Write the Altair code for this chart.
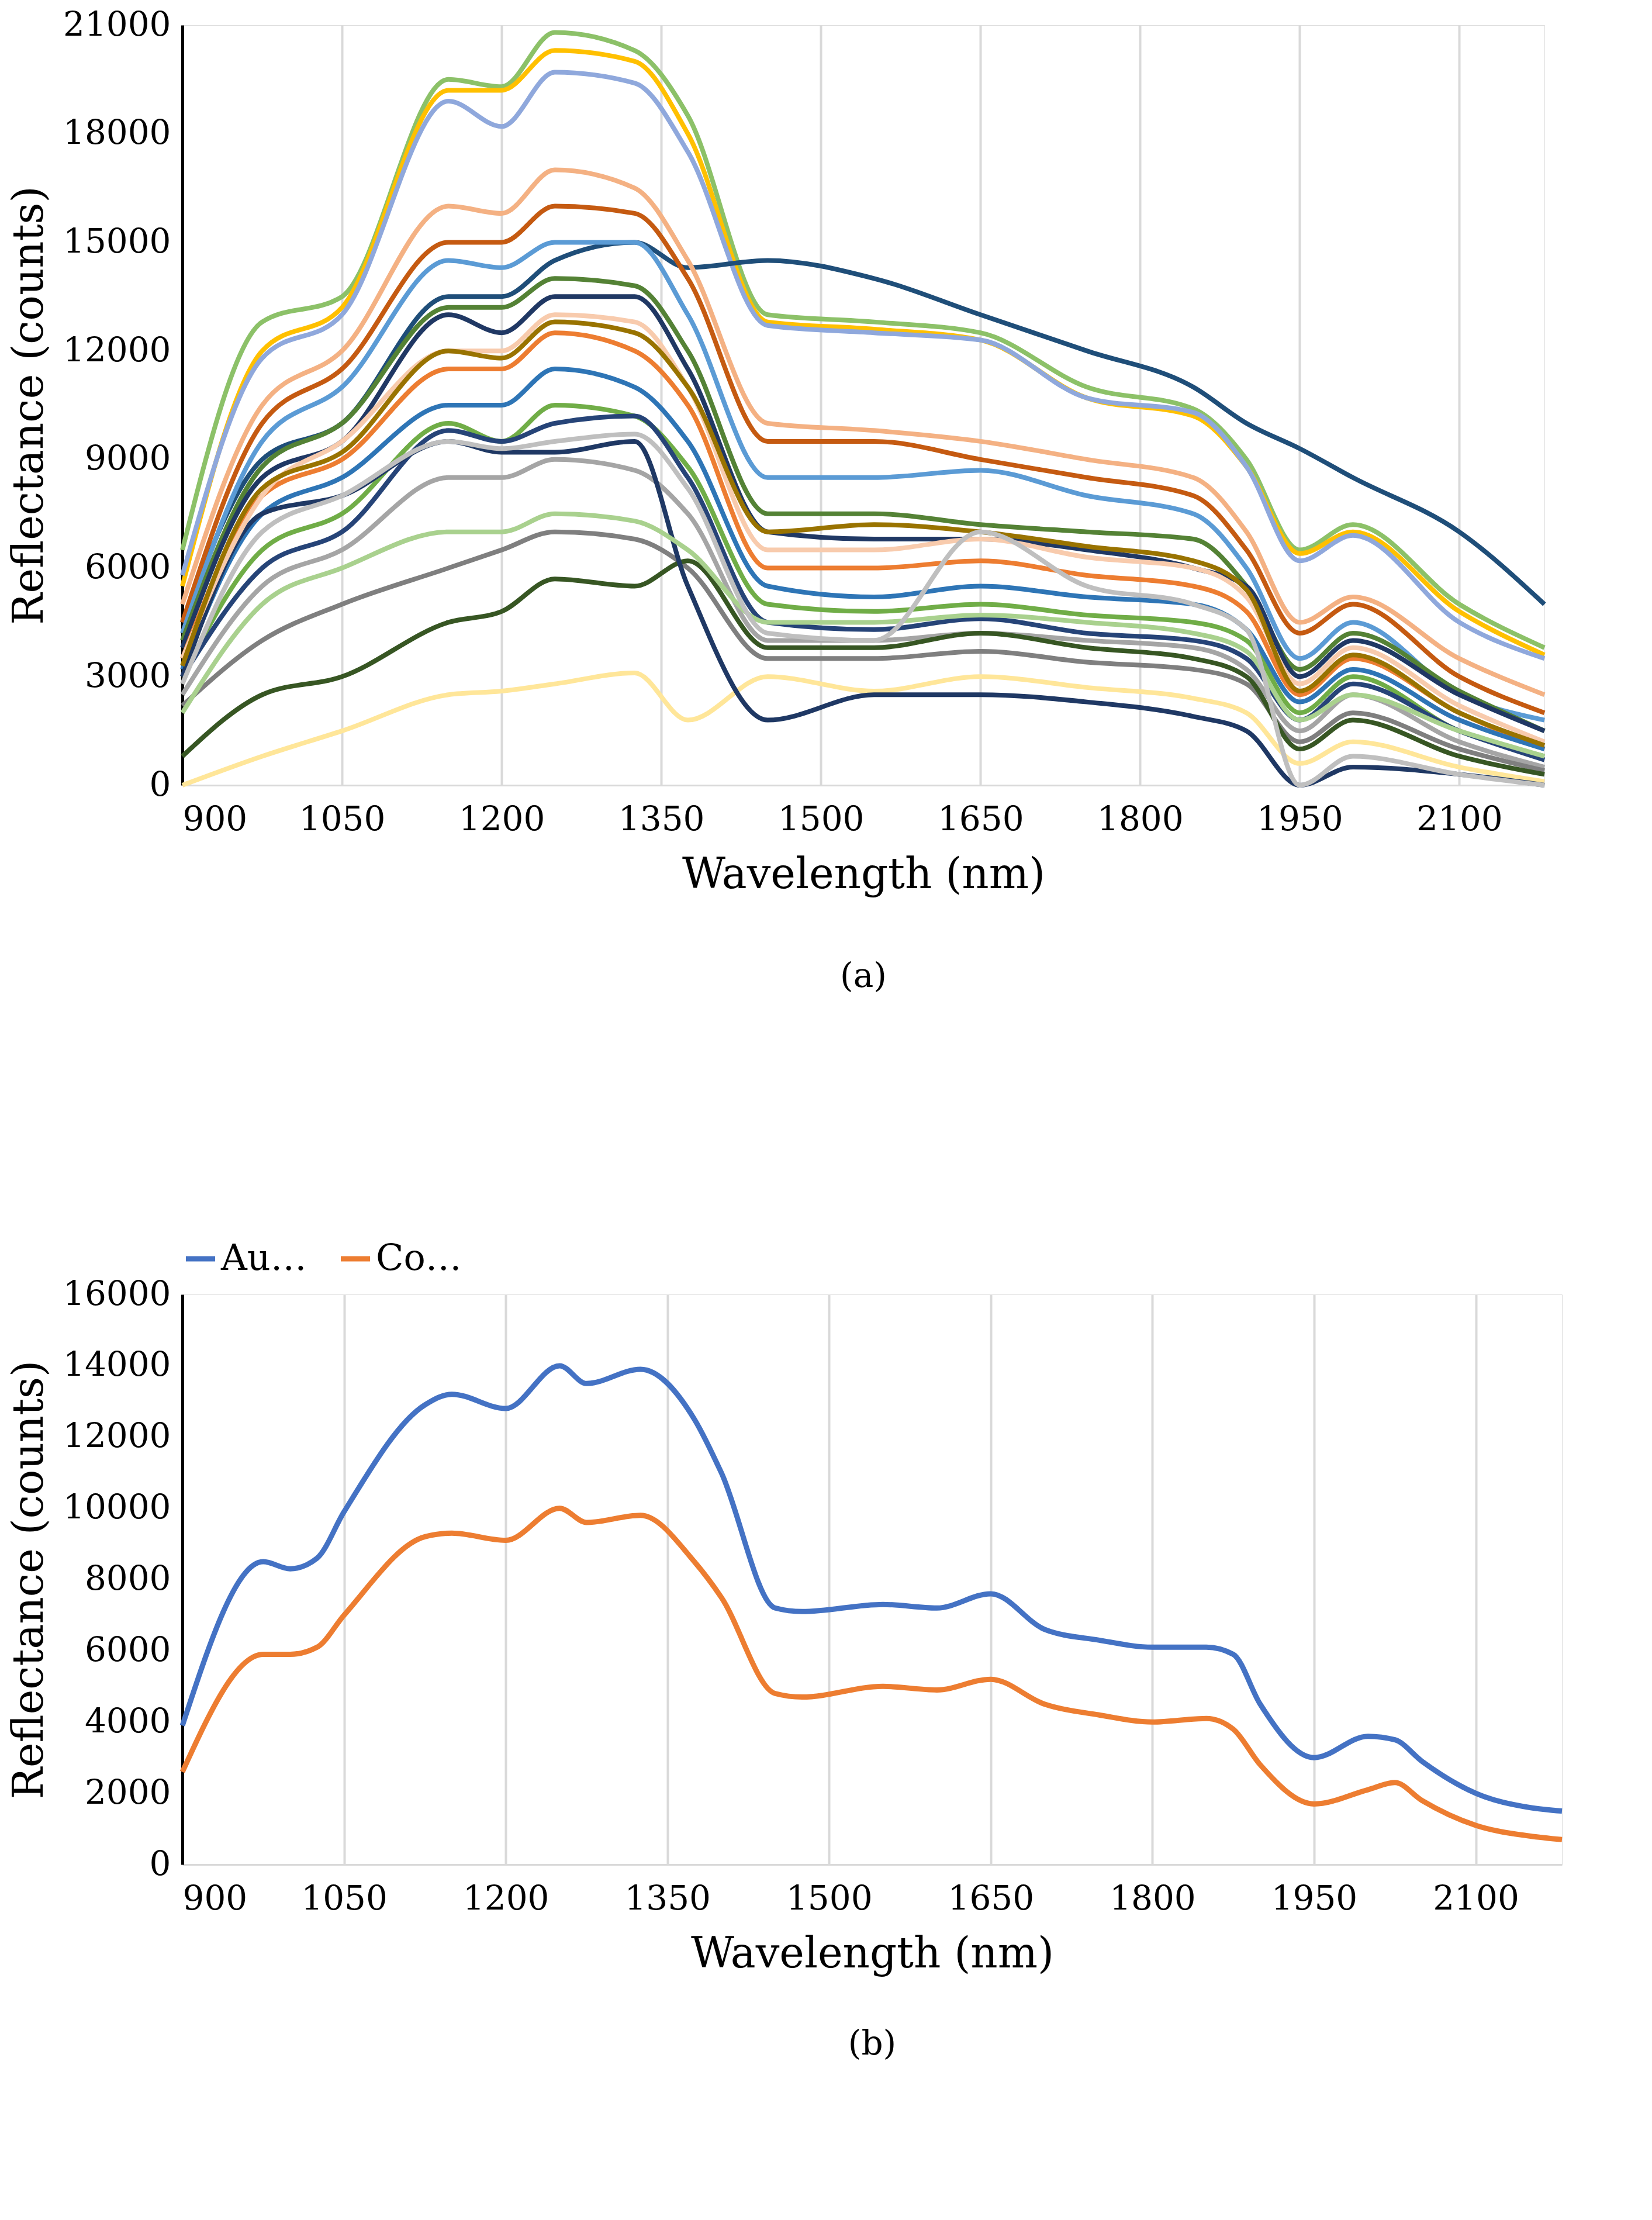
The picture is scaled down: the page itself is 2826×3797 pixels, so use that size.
import altair as alt
import pandas as pd

# knots (nm) for panel (a)
wl_a = [900, 975, 1050, 1150, 1200, 1250, 1325, 1375, 1450, 1550, 1650, 1750, 1850, 1900, 1950, 2000, 2100, 2180]

spectra_a = {
    "s01": [6500, 12800, 13500, 19500, 19300, 20800, 20300, 18500, 13000, 12800, 12500, 11000, 10400, 9000, 6500, 7200, 5000, 3800],
    "s02": [5500, 12000, 13200, 19200, 19200, 20300, 20000, 18000, 12800, 12600, 12300, 10700, 10200, 8800, 6400, 7000, 4800, 3600],
    "s03": [5800, 11800, 13000, 18900, 18200, 19700, 19400, 17500, 12700, 12500, 12300, 10700, 10300, 8800, 6200, 6900, 4500, 3500],
    "s04": [4500, 9000, 10000, 13500, 13500, 14500, 15000, 14300, 14500, 14000, 13000, 12000, 11000, 10000, 9300, 8500, 7000, 5000],
    "s05": [5000, 10500, 12000, 16000, 15800, 17000, 16500, 14500, 10000, 9800, 9500, 9000, 8500, 7000, 4500, 5200, 3500, 2500],
    "s06": [4500, 10000, 11500, 15000, 15000, 16000, 15800, 14000, 9500, 9500, 9000, 8500, 8000, 6500, 4200, 5000, 3000, 2000],
    "s07": [4200, 9500, 11000, 14500, 14300, 15000, 15000, 13000, 8500, 8500, 8700, 8000, 7500, 6000, 3500, 4500, 2500, 1800],
    "s08": [4000, 8800, 10000, 13200, 13200, 14000, 13800, 12000, 7500, 7500, 7200, 7000, 6800, 5500, 3200, 4200, 2600, 1500],
    "s09": [3800, 8500, 9500, 13000, 12500, 13500, 13500, 11500, 7000, 6800, 6800, 6500, 6000, 5500, 3000, 4000, 2500, 1500],
    "s10": [3500, 8000, 9000, 11500, 11500, 12500, 12000, 10500, 6000, 6000, 6200, 5800, 5500, 4800, 2500, 3500, 2000, 1000],
    "s11": [3200, 7500, 8500, 10500, 10500, 11500, 11000, 9500, 5500, 5200, 5500, 5200, 5000, 4300, 2300, 3200, 1800, 1000],
    "s12": [3000, 6500, 7500, 10000, 9500, 10500, 10200, 8800, 5000, 4800, 5000, 4700, 4500, 4000, 2000, 3000, 1500, 800],
    "s13": [3000, 6000, 7000, 9800, 9500, 10000, 10200, 8500, 4500, 4300, 4600, 4200, 4000, 3500, 1800, 2800, 1500, 700],
    "s14": [2500, 5500, 6500, 8500, 8500, 9000, 8700, 7500, 4000, 4000, 4200, 4000, 3800, 3200, 1500, 2500, 1200, 500],
    "s15": [2200, 4000, 5000, 6000, 6500, 7000, 6800, 6000, 3500, 3500, 3700, 3400, 3200, 2800, 1200, 2000, 1000, 400],
    "s16": [800, 2500, 3000, 4500, 4800, 5700, 5500, 6200, 3800, 3800, 4200, 3800, 3500, 3000, 1000, 1800, 800, 300],
    "s17": [0, 800, 1500, 2500, 2600, 2800, 3100, 1800, 3000, 2600, 3000, 2700, 2400, 2000, 600, 1200, 500, 100],
    "s18": [3000, 7500, 8000, 9500, 9200, 9200, 9500, 5500, 1800, 2500, 2500, 2300, 1900, 1500, 0, 500, 300, 0],
    "s19": [2000, 5000, 6000, 7000, 7000, 7500, 7300, 6500, 4500, 4500, 4700, 4500, 4200, 3700, 1800, 2500, 1500, 800],
    "s20": [3500, 8000, 9500, 12000, 12000, 13000, 12800, 11000, 6500, 6500, 6800, 6300, 6000, 5200, 2800, 3800, 2200, 1200],
    "s21": [3300, 8200, 9200, 12000, 11800, 12800, 12500, 11000, 7000, 7200, 7000, 6600, 6200, 5400, 2600, 3600, 2000, 1100],
    "s22": [2800, 7000, 8000, 9500, 9300, 9500, 9700, 8200, 4200, 4000, 7000, 5500, 5000, 4300, 0, 800, 300, 0],
}
colors_a = ["#8CC168", "#FFC000", "#8FA8DC", "#1F4E79", "#F4B183", "#C55A11", "#5B9BD5",
            "#548235", "#203864", "#ED7D31", "#2E75B6", "#70AD47", "#264478", "#A5A5A5",
            "#7F7F7F", "#375623", "#FFE699", "#1F3864", "#A9D18E", "#F8CBAD", "#997300", "#BFBFBF"]

# panel (b)
wl_b = [900, 975, 1000, 1025, 1050, 1125, 1150, 1200, 1250, 1275, 1325, 1375, 1400, 1450, 1475,
        1550, 1600, 1650, 1700, 1750, 1800, 1850, 1875, 1900, 1950, 2000, 2025, 2050, 2100, 2150, 2180]
authentic = [3900, 8500, 8300, 8600, 9900, 12900, 13200, 12800, 14000, 13500, 13900, 12500, 11000, 7200, 7100,
             7300, 7200, 7600, 6600, 6300, 6100, 6100, 5900, 4500, 3000, 3600, 3500, 2900, 2000, 1600, 1500]
counterfeit = [2600, 5900, 5900, 6100, 7000, 9200, 9300, 9100, 10000, 9600, 9800, 8500, 7500, 4800, 4700,
               5000, 4900, 5200, 4500, 4200, 4000, 4100, 3800, 2800, 1700, 2100, 2300, 1800, 1100, 800, 700]

rows = []
for name, vals in spectra_a.items():
    for w, v in zip(wl_a, vals):
        rows.append({"s": name, "wl": w, "r": v})
df_a = pd.DataFrame(rows)
rows = []
for name, vals in [("Authentic", authentic), ("Counterfeit", counterfeit)]:
    for w, v in zip(wl_b, vals):
        rows.append({"s": name, "wl": w, "r": v})
df_b = pd.DataFrame(rows)

FONT = "DejaVu Serif"
xs = alt.Scale(domain=[900, 2180], nice=False)
xvals = list(range(900, 2101, 150))

def xaxis():
    return alt.Axis(values=xvals, format="d", title="Wavelength (nm)", grid=True, gridColor="#D9D9D9",
                    gridWidth=4, ticks=False, labelFontSize=58, titleFontSize=72, labelPadding=30,
                    titlePadding=30, domainColor="#D9D9D9", domainWidth=3, labelFont=FONT, titleFont=FONT,
                    titleFontWeight="normal", labelColor="black", titleColor="black")

def yaxis(step, top):
    return alt.Axis(values=list(range(0, top + 1, step)), format="d", labelLimit=400,
                    title="Reflectance (counts)", grid=False, ticks=False, labelFontSize=58,
                    titleFontSize=72, labelPadding=20, titlePadding=25, domainColor="black",
                    domainWidth=5, labelFont=FONT, titleFont=FONT, titleFontWeight="normal",
                    labelColor="black", titleColor="black")

top = alt.Chart(df_a).mark_line(strokeWidth=8, interpolate="monotone").encode(
    x=alt.X("wl:Q", scale=xs, axis=xaxis()),
    y=alt.Y("r:Q", scale=alt.Scale(domain=[0, 21000], nice=False), axis=yaxis(3000, 21000)),
    color=alt.Color("s:N", scale=alt.Scale(domain=list(spectra_a.keys()), range=colors_a), legend=None),
).properties(width=2330, height=1300,
             title=alt.TitleParams("(a)", orient="bottom", fontSize=58, font=FONT,
                                   fontWeight="normal", offset=110))

bottom = alt.Chart(df_b).mark_line(strokeWidth=9, interpolate="monotone").encode(
    x=alt.X("wl:Q", scale=xs, axis=xaxis()),
    y=alt.Y("r:Q", scale=alt.Scale(domain=[0, 16000], nice=False), axis=yaxis(2000, 16000)),
    color=alt.Color("s:N", scale=alt.Scale(domain=["Authentic", "Counterfeit"], range=["#4472C4", "#ED7D31"]),
                    legend=alt.Legend(orient="top", title=None, direction="horizontal", labelFontSize=62,
                                      labelFont=FONT, symbolType="stroke", symbolStrokeWidth=9,
                                      symbolSize=2500, columnPadding=40, labelColor="black", offset=30)),
).properties(width=2360, height=975,
             title=alt.TitleParams("(b)", orient="bottom", fontSize=58, font=FONT,
                                   fontWeight="normal", offset=90))

chart = alt.vconcat(top, bottom, spacing=420).resolve_scale(color="independent").configure_view(
    stroke=None).configure(background="white")
chart.save("out.html", embed_options={"renderer": "svg", "actions": False})
